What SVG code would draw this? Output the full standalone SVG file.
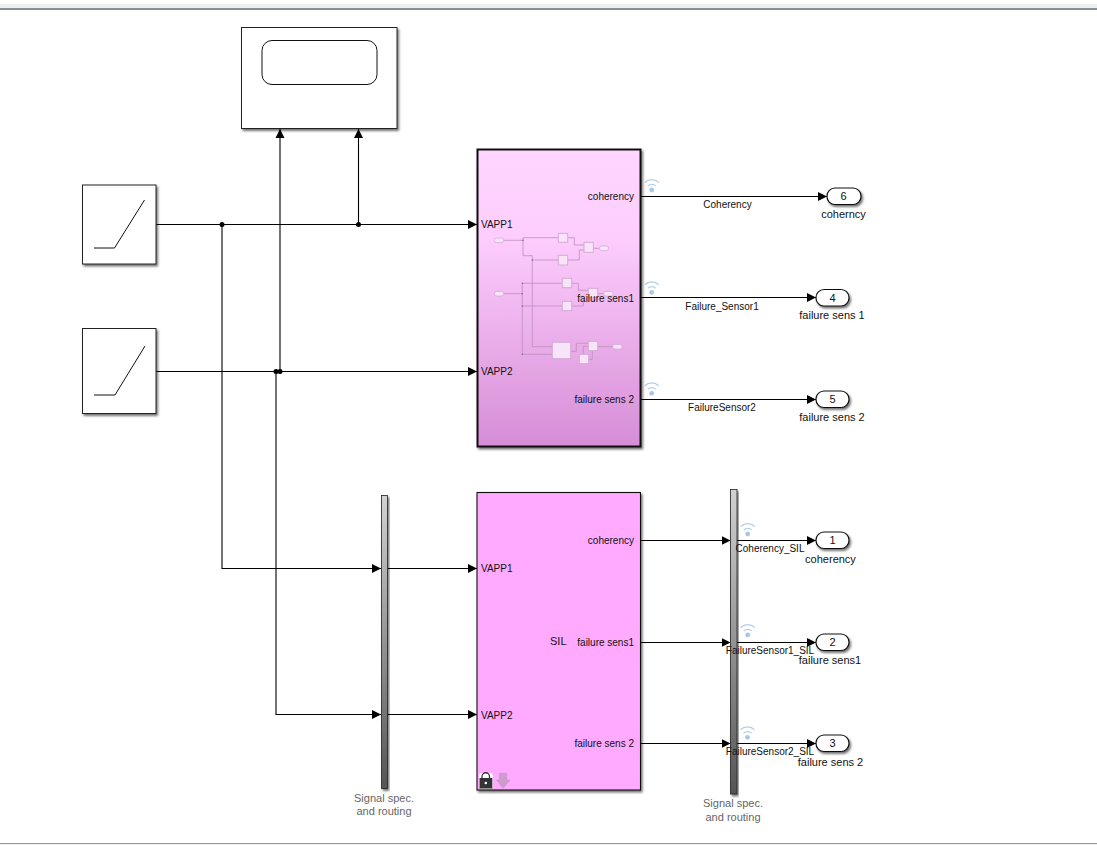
<svg xmlns="http://www.w3.org/2000/svg" width="1097" height="845" viewBox="0 0 1097 845">
<style>
text{font-family:"Liberation Sans",Arial,sans-serif;font-size:10px;fill:#111}
.m{text-anchor:middle}.e{text-anchor:end}
.gray{font-size:11px;fill:#666;text-anchor:middle}
.blk{fill:#fff;stroke:#222;stroke-width:1;filter:url(#sh)}
.port{fill:#fff;stroke:#111;stroke-width:1.2;filter:url(#sh)}
.num{font-size:11px;text-anchor:middle}
.wire{fill:none;stroke:#000;stroke-width:1.1}
.arrow{marker-end:url(#ah)}
.ic{fill:none;stroke:#111;stroke-width:1}
.mw{fill:none;stroke:#bd8fbd;stroke-width:.8}
.mb{fill:#f8e4f8;stroke:#d0a8d0;stroke-width:.9}
.mo{fill:#f8e4f8;stroke:#d0a8d0;stroke-width:.7}
.wf{fill:none;stroke:#b4cfe8;stroke-width:1.2}
</style>
<defs>
<filter id="sh" x="-20%" y="-20%" width="150%" height="150%"><feDropShadow dx="1.5" dy="2" stdDeviation="1.3" flood-color="#000" flood-opacity=".55"/></filter>
<marker id="ah" markerUnits="userSpaceOnUse" markerWidth="10" markerHeight="10" refX="9" refY="5" orient="auto"><path d="M0 .5L9 5L0 9.500z" fill="#000"/></marker>
<linearGradient id="g1" x1="0" y1="0" x2="0" y2="1"><stop offset="0" stop-color="#ffd6ff"/><stop offset=".3" stop-color="#fdcdfd"/><stop offset="1" stop-color="#d68dd6"/></linearGradient>
<linearGradient id="bus" x1="0" y1="0" x2="0" y2="1"><stop offset="0" stop-color="#d2d2d2"/><stop offset="1" stop-color="#555"/></linearGradient>
<g id="wifi"><circle cx="0" cy="0" r="2.400" fill="#a9c8e6"/><path class="wf" d="M-4 -4A5.700 5.700 0 0 1 4 -4M-7 -7.500A10 10 0 0 1 7 -7.500"/></g>
</defs>
<rect width="1097" height="845" fill="#fff"/>
<rect x="0" y="4" width="1097" height="4" fill="#eeeeee"/>
<rect x="0" y="8" width="1097" height="2" fill="#8b8f96"/>
<rect x="0" y="843" width="1097" height="1.200" fill="#9a9a9a"/>

<g id="connectors">
<path class="wire arrow" d="M156 224.500H477"/>
<path class="wire arrow" d="M156 371.500H477"/>
<path class="wire arrow" d="M222 224.500V568.500H381"/>
<path class="wire arrow" d="M276 371.500V714.500H381"/>
<path class="wire arrow" d="M280 371.500V129"/>
<path class="wire arrow" d="M358.500 224.500V129"/>
<path class="wire arrow" d="M387 568.500H477"/>
<path class="wire arrow" d="M387 714.500H477"/>
<path class="wire arrow" d="M640 196.500H827"/>
<path class="wire arrow" d="M640 297.500H816"/>
<path class="wire arrow" d="M640 399.500H816"/>
<path class="wire arrow" d="M640 540.500H730.500"/>
<path class="wire arrow" d="M640 642.500H730.500"/>
<path class="wire arrow" d="M640 743.500H730.500"/>
<path class="wire arrow" d="M737 540.500H816"/>
<path class="wire arrow" d="M737 642.500H816"/>
<path class="wire arrow" d="M737 743.500H816"/>
<circle cx="222" cy="224.500" r="2.500"/><circle cx="358.500" cy="224.500" r="2.500"/>
<circle cx="276" cy="371.500" r="2.500"/><circle cx="280" cy="371.500" r="2.500"/>
</g>

<g id="chart"><rect class="blk" x="241.500" y="27.500" width="155.500" height="101"/><rect class="ic" x="262" y="40.500" width="115" height="44" rx="10"/></g>
<g id="ramp1"><rect class="blk" x="82.500" y="185" width="73.500" height="79"/><path class="ic" d="M94 248H114.500L144.500 200"/></g>
<g id="ramp2"><rect class="blk" x="82.500" y="328.500" width="73.500" height="85"/><path class="ic" d="M94 395H115L145 346"/></g>

<g id="subsystem1">
<rect x="477.500" y="149.500" width="163" height="297" fill="url(#g1)" stroke="#111" stroke-width="2" filter="url(#sh)"/>
<g id="thumbnail">
<path class="mw" d="M503.700 240.300H523V237.700H558.300M523 240.300V255.700H532.300V260H558.300M567.700 237.700H574.300V245H584M567.700 260H579.300V250H584M593.300 248.300H599.300"/>
<path class="mw" d="M503.700 293.700H522.300M522.300 283.300V354.300M522.300 283.300H562.300M571.700 283.300H578.300V290.300H588.300M597.700 293.700H603.700M522.300 306H562.300M571.700 306H583.300V298"/>
<path class="mw" d="M532.300 260V346.700H552.300M522.300 354.300H552.300M570.700 351.300H576.300V343.300H588.300M597.700 346.700H612.700M583.300 354.300V346.300H588.300M588.700 359.300H592.300V350.700"/>
<rect class="mb" x="558.300" y="233.300" width="9.400" height="9"/><rect class="mb" x="558.300" y="255.300" width="9.400" height="9.700"/><rect class="mb" x="584" y="242.300" width="9.300" height="10"/>
<rect class="mb" x="562.300" y="278.300" width="9.400" height="9.400"/><rect class="mb" x="588.300" y="288.300" width="9.400" height="9.400"/><rect class="mb" x="562.300" y="301.300" width="9.400" height="9.400"/>
<rect class="mb" x="552.300" y="342.300" width="18.400" height="16.400"/><rect class="mb" x="588.300" y="341.300" width="9.400" height="9.400"/><rect class="mb" x="579.300" y="354.300" width="9.400" height="9.400"/>
<rect class="mo" x="494.300" y="238" width="9.400" height="4.600" rx="2.300"/><rect class="mo" x="599.300" y="246" width="9.400" height="4.600" rx="2.300"/><rect class="mo" x="494.300" y="291.400" width="9.400" height="4.600" rx="2.300"/><rect class="mo" x="603.700" y="291.400" width="9.400" height="4.600" rx="2.300"/><rect class="mo" x="612.700" y="344.400" width="9.400" height="4.600" rx="2.300"/>
<g fill="#8a5a8a"><circle cx="523" cy="240.300" r=".7"/><circle cx="532.300" cy="260" r=".7"/><circle cx="522.300" cy="283.300" r=".7"/><circle cx="522.300" cy="293.700" r=".7"/><circle cx="522.300" cy="306" r=".7"/><circle cx="522.300" cy="354.300" r=".7"/></g>
</g>
<text x="481" y="228">VAPP1</text><text x="481" y="375">VAPP2</text>
<text class="e" x="634" y="200">coherency</text><text class="e" x="634" y="302">failure sens1</text><text class="e" x="634" y="403">failure sens 2</text>
</g>

<g id="subsystem2">
<rect x="477" y="492.500" width="163.500" height="297.500" fill="#ffa9ff" stroke="#111" stroke-width="1.100" filter="url(#sh)"/>
<text x="481" y="572">VAPP1</text><text x="481" y="719">VAPP2</text>
<text class="e" x="634" y="544">coherency</text><text class="e" x="634" y="646">failure sens1</text><text class="e" x="634" y="747">failure sens 2</text>
<text x="550" y="645" style="font-size:11px">SIL</text>
<rect x="479" y="773" width="13.800" height="16" rx="3" fill="#fff"/>
<rect x="479.500" y="778" width="12.800" height="10.500" fill="#333"/>
<path d="M482 778V776.500A3.600 3.600 0 0 1 489.500 776.500V778" fill="none" stroke="#333" stroke-width="1.300"/>
<circle cx="485.800" cy="783" r="1.300" fill="#fff"/>
<path d="M499.300 773.300H506.700V780H510L503 788.300L496.500 780H499.300z" fill="#cd9bcd" stroke="#c090c0" stroke-width=".5"/>
</g>

<g id="bus1"><rect x="381.500" y="495.500" width="6" height="293" fill="url(#bus)" stroke="#222" stroke-width=".8" filter="url(#sh)"/><text class="gray" x="384" y="802">Signal spec.</text><text class="gray" x="384" y="815">and routing</text></g>
<g id="bus2"><rect x="730.500" y="489.500" width="6.500" height="304.500" fill="url(#bus)" stroke="#222" stroke-width=".8" filter="url(#sh)"/><text class="gray" x="733" y="807">Signal spec.</text><text class="gray" x="733" y="821">and routing</text></g>

<g id="signal-icons">
<use href="#wifi" x="651.700" y="190"/><use href="#wifi" x="651.700" y="292.300"/><use href="#wifi" x="651.700" y="393.300"/>
<use href="#wifi" x="747.700" y="534"/><use href="#wifi" x="747.700" y="635"/><use href="#wifi" x="747.500" y="737.300"/>
</g>
<g id="signal-labels">
<text class="m" x="727.500" y="208">Coherency</text><text class="m" x="722" y="310">Failure_Sensor1</text><text class="m" x="722" y="411">FailureSensor2</text>
<text class="m" x="770" y="552">Coherency_SIL</text><text class="m" x="770" y="654">FailureSensor1_SIL</text><text class="m" x="770" y="755">FailureSensor2_SIL</text>
</g>

<g id="out6"><rect class="port" x="827" y="188" width="34" height="16.500" rx="8"/><text class="num" x="843.500" y="200">6</text><text class="m" x="843.500" y="218" style="font-size:11px">coherncy</text></g>
<g id="out4"><rect class="port" x="816" y="289.500" width="33" height="16.500" rx="8"/><text class="num" x="832.500" y="302">4</text><text class="m" x="832" y="319" style="font-size:11px">failure sens 1</text></g>
<g id="out5"><rect class="port" x="816" y="391" width="33" height="16.500" rx="8"/><text class="num" x="832.500" y="403">5</text><text class="m" x="832" y="421" style="font-size:11px">failure sens 2</text></g>
<g id="out1"><rect class="port" x="816" y="532" width="33" height="16.500" rx="8"/><text class="num" x="832.500" y="544">1</text><text class="m" x="830.500" y="563" style="font-size:11px">coherency</text></g>
<g id="out2"><rect class="port" x="816" y="634" width="33" height="16.500" rx="8"/><text class="num" x="832.500" y="646">2</text><text class="m" x="830" y="664" style="font-size:11px">failure sens1</text></g>
<g id="out3"><rect class="port" x="816" y="735" width="33" height="16.500" rx="8"/><text class="num" x="832.500" y="747">3</text><text class="m" x="830.500" y="766" style="font-size:11px">failure sens 2</text></g>
</svg>
